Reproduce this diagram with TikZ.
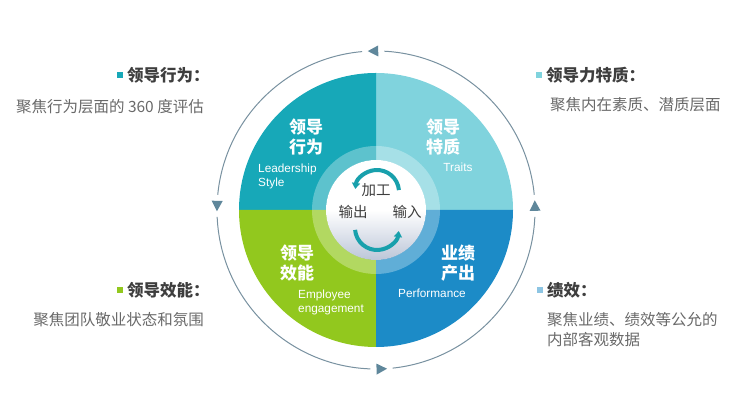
\documentclass[tikz,border=0pt]{standalone}
\usepackage{fontspec}
\setmainfont{Noto Sans CJK SC}
\newfontfamily\latinsf{Liberation Sans}
\usetikzlibrary{arrows.meta}
\definecolor{tlc}{RGB}{23,168,184}
\definecolor{trc}{RGB}{128,211,221}
\definecolor{blc}{RGB}{146,200,30}
\definecolor{brc}{RGB}{28,139,199}
\definecolor{cycc}{RGB}{24,160,172}
\definecolor{ringc}{RGB}{120,145,160}
\definecolor{markc}{RGB}{95,135,155}
\definecolor{txtdark}{RGB}{62,62,62}
\definecolor{txtgray}{RGB}{105,105,105}
\tikzset{
  qd_cn/.style = {align=center, inner sep=0pt, text=white,
    font=\fontsize{17}{20}\selectfont\bfseries},% quadrant title
  qd_en/.style = {align=left, inner sep=0pt, text=white,
    font=\latinsf\fontsize{11.8}{14}\selectfont},% quadrant english
  mid_cn/.style = {inner sep=0pt, text=txtdark,
    font=\fontsize{14.5}{16}\selectfont},
  side_hd/.style = {inner sep=0pt, text=txtdark,
    font=\fontsize{16.5}{18}\selectfont\bfseries},
  side_tx/.style = {align=left, inner sep=0pt, text=txtgray,
    font=\fontsize{15.5}{20}\selectfont},
  bullet/.style = {inner sep=0pt, minimum size=6.5pt},
  cyc/.style = {line width=4pt, draw=cycc,
    -{Triangle[length=6pt,width=8pt]}},
}

\begin{document}
\begin{tikzpicture}[x=1pt,y=1pt]
\useasboundingbox (0,0) rectangle (742,411);
\coordinate (C) at (376,201);
% outer ring with markers
\foreach \a/\b in {5.5/87, 95/174.5, 182.5/268, 276/357.5}
  \draw[ringc, line width=1pt] (C) ++(\a:159) arc[start angle=\a, end angle=\b, radius=159];
\foreach \a in {1.5, 91, 178.5, 272}
  \fill[markc, shift={(C)}, rotate=\a] (159,5.5) -- (153.5,-5) -- (164.5,-5) -- cycle;
% four quadrants
\foreach \c/\s in {trc/0, tlc/90, blc/180, brc/270}
  \fill[\c] (C) -- ++(\s:137) arc[start angle=\s, end angle=\s+90, radius=137] -- cycle;
\fill[white, opacity=.3, even odd rule] (C) circle (64) (C) circle (50);
\shade[top color=white, bottom color={rgb,255:red,188;green,198;blue,216}, middle color=white]
  (C) circle (50);
% cycle arrows
\draw[cyc] (377,219) ++(5:22) arc[start angle=5, end angle=172, radius=22];
\draw[cyc] (377,183) ++(185:22) arc[start angle=185, end angle=352, radius=22];
\node[mid_cn] (jg) at (376,221) {加工};
\node[mid_cn] (sc) at (353,199) {输出};
\node[mid_cn] (sr) at (407,199) {输入};
% quadrant labels
\node[qd_cn] (q_tl) at (306,274) {领导\\行为};
\node[qd_en, anchor=west] (e_tl) at (258,235) {Leadership\\Style};
\node[qd_cn] (q_tr) at (443,274) {领导\\特质};
\node[qd_en] (e_tr) at (458,244) {Traits};
\node[qd_cn] (q_bl) at (297,148) {领导\\效能};
\node[qd_en, anchor=west] (e_bl) at (298,109) {Employee\\engagement};
\node[qd_cn] (q_br) at (458,148) {业绩\\产出};
\node[qd_en] (e_br) at (432,118) {Performance};
% side notes
\node[bullet, fill=tlc] (b_lt) at (120,336) {};
\node[side_hd, anchor=west] (h_lt) at (127,336) {领导行为：};
\node[side_tx, anchor=east] (t_lt) at (204,304) {聚焦行为层面的 360 度评估};
\node[bullet, fill=trc] (b_rt) at (539,336) {};
\node[side_hd, anchor=west] (h_rt) at (546,336) {领导力特质：};
\node[side_tx, anchor=west] (t_rt) at (550,306) {聚焦内在素质、潜质层面};
\node[bullet, fill=blc] (b_lb) at (120,121) {};
\node[side_hd, anchor=west] (h_lb) at (127,121) {领导效能：};
\node[side_tx, anchor=east] (t_lb) at (204,91) {聚焦团队敬业状态和氛围};
\node[bullet, fill=brc!50] (b_rb) at (540,121) {};
\node[side_hd, anchor=west] (h_rb) at (547,121) {绩效：};
\node[side_tx, anchor=west] (t_rb) at (547,81) {聚焦业绩、绩效等公允的\\内部客观数据};
\end{tikzpicture}
\end{document}
